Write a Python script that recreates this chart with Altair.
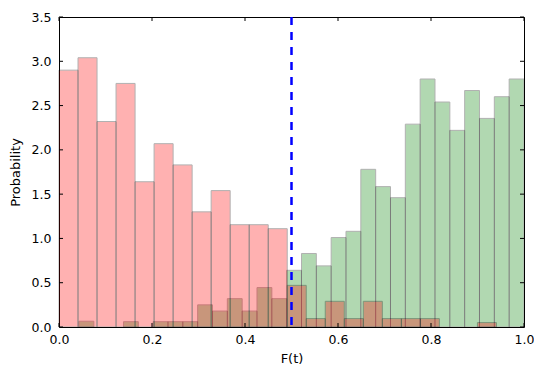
import altair as alt
import pandas as pd

# Red histogram: 23 bins of equal width starting at 0
red_bin_width = 0.0409
red_heights = [2.90, 3.04, 2.32, 2.75, 1.64, 2.07, 1.83, 1.30, 1.54, 1.155, 1.155, 1.11,
               0.47, 0.095, 0.29, 0.095, 0.29, 0.095, 0.095, 0.095, 0.0, 0.0, 0.05]

# Green histogram: 30 bins of equal width from 0.043 to 1.0
green_start = 0.043
green_bin_width = (1.0 - 0.043) / 30
green_heights = [0.065, 0.0, 0.0, 0.06, 0.0, 0.06, 0.06, 0.06, 0.25, 0.18, 0.32, 0.18, 0.445, 0.32,
                 0.64, 0.83, 0.69, 1.01, 1.08, 1.78, 1.585, 1.46, 2.29, 2.80, 2.54, 2.22, 2.67,
                 2.355, 2.60, 2.80]

threshold = [0.5]
x_ticks = [0.0, 0.2, 0.4, 0.6, 0.8, 1.0]
y_ticks = [0.0, 0.5, 1.0, 1.5, 2.0, 2.5, 3.0, 3.5]

W, H = 465, 310

red_df = pd.DataFrame({
    "start": [i * red_bin_width for i in range(len(red_heights))],
    "end": [(i + 1) * red_bin_width for i in range(len(red_heights))],
    "value": red_heights,
})
red_df = red_df[red_df["value"] > 0]

green_df = pd.DataFrame({
    "start": [green_start + i * green_bin_width for i in range(len(green_heights))],
    "end": [green_start + (i + 1) * green_bin_width for i in range(len(green_heights))],
    "value": green_heights,
})
green_df = green_df[green_df["value"] > 0]

xscale = alt.Scale(domain=[0, 1], nice=False, zero=False)
yscale = alt.Scale(domain=[0, 3.5], nice=False)

xaxis = alt.Axis(values=x_ticks, format=".1f", title="F(t)", ticks=False, domain=False,
                 grid=False, labelPadding=6, titlePadding=7, labelFlush=False, labelOverlap=False)
yaxis = alt.Axis(values=y_ticks, format=".1f", title="Probability", ticks=False, domain=False,
                 grid=False, labelPadding=8, titlePadding=9, labelFlush=False, labelOverlap=False)

green = alt.Chart(green_df).mark_rect(
    color="#008000", opacity=0.3, stroke="black", strokeWidth=1
).encode(
    x=alt.X("start:Q", scale=xscale, axis=xaxis),
    x2="end:Q",
    y=alt.Y("value:Q", scale=yscale, axis=yaxis),
    y2=alt.datum(0),
)

red = alt.Chart(red_df).mark_rect(
    color="#ff0000", opacity=0.3, stroke="black", strokeWidth=1
).encode(
    x=alt.X("start:Q", scale=xscale),
    x2="end:Q",
    y=alt.Y("value:Q", scale=yscale),
    y2=alt.datum(0),
)

thr = alt.Chart(pd.DataFrame({"t": threshold})).mark_rule(
    color="#0000ff", strokeWidth=2.5, strokeDash=[8, 7]
).encode(x=alt.X("t:Q", scale=xscale))

xt = pd.DataFrame({"v": x_ticks})
yt = pd.DataFrame({"v": y_ticks})

tick_bottom = alt.Chart(xt).mark_rule(color="black", strokeWidth=1).encode(
    x=alt.X("v:Q", scale=xscale), y=alt.value(H), y2=alt.value(H - 4))
tick_top = alt.Chart(xt).mark_rule(color="black", strokeWidth=1).encode(
    x=alt.X("v:Q", scale=xscale), y=alt.value(0), y2=alt.value(4))
tick_left = alt.Chart(yt).mark_rule(color="black", strokeWidth=1).encode(
    y=alt.Y("v:Q", scale=yscale), x=alt.value(0), x2=alt.value(4))
tick_right = alt.Chart(yt).mark_rule(color="black", strokeWidth=1).encode(
    y=alt.Y("v:Q", scale=yscale), x=alt.value(W - 4), x2=alt.value(W))

chart = alt.layer(green, red, thr, tick_bottom, tick_top, tick_left, tick_right).properties(
    width=W, height=H,
    autosize=alt.AutoSizeParams(type="none"),
    padding={"left": 51, "top": 9, "right": 10, "bottom": 40},
).configure_view(
    stroke="black", strokeWidth=1
).configure_axis(
    labelFont="DejaVu Sans", titleFont="DejaVu Sans", labelFontSize=12.5, titleFontSize=13,
    labelColor="black", titleColor="black", titleFontWeight="normal"
)

chart.save("out.html", embed_options={"renderer": "svg", "actions": False})
